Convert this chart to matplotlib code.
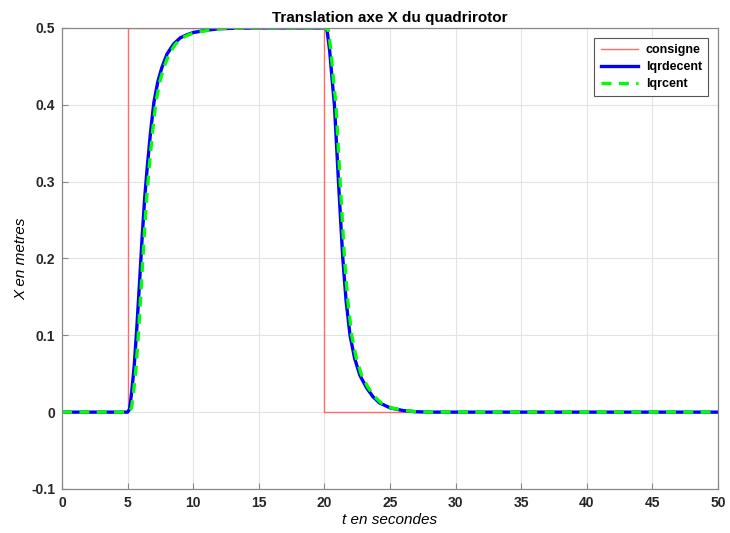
import matplotlib
matplotlib.use("Agg")
import matplotlib.pyplot as plt

# consigne (echelon 0 -> 0.5 -> 0)
t_consigne = [0, 5, 5, 20, 20, 50]
x_consigne = [0, 0, 0.5, 0.5, 0, 0]

# lqrdecent
t_decent = [0, 5.0, 5.15, 5.3, 5.5, 5.7, 5.9, 6.1, 6.3, 6.5, 6.75, 7.0, 7.3, 7.6,
            8.0, 8.5, 9.0, 9.5, 10, 11, 12, 13, 15,
            20.0, 20.2, 20.4, 20.6, 20.76, 20.9, 21.07, 21.25, 21.4, 21.65, 21.95,
            22.3, 22.7, 23.2, 23.7, 24.2, 25, 26, 27, 28, 50]
x_decent = [0, 0, 0.004, 0.025, 0.06, 0.11, 0.167, 0.226, 0.279, 0.32, 0.365, 0.403, 0.43, 0.448,
            0.466, 0.479, 0.487, 0.491, 0.494, 0.497, 0.499, 0.4995, 0.5,
            0.5, 0.497, 0.47, 0.43, 0.4, 0.355, 0.3, 0.245, 0.2, 0.145, 0.1,
            0.07, 0.048, 0.032, 0.02, 0.012, 0.0056, 0.002, 0.0005, 0, 0]

# lqrcent (tres proche, un peu en retard)
t_cent = [0, 5.0, 5.15, 5.3, 5.45, 5.65, 5.85, 6.05, 6.25, 6.45, 6.65, 6.9, 7.15, 7.45, 7.75,
          8.15, 8.65, 9.15, 9.65, 10.15, 11.15, 12.15, 13, 15,
          20.0, 20.3, 20.5, 20.7, 20.88, 21.02, 21.2, 21.38, 21.53, 21.78, 22.08,
          22.43, 22.83, 23.33, 23.83, 24.33, 25.1, 26.1, 27.1, 28, 50]
x_cent = [0, 0, 0.001, 0.006, 0.025, 0.06, 0.11, 0.167, 0.226, 0.279, 0.32, 0.365, 0.403, 0.43, 0.448,
          0.466, 0.479, 0.487, 0.491, 0.494, 0.497, 0.499, 0.4995, 0.5,
          0.5, 0.497, 0.47, 0.43, 0.4, 0.355, 0.3, 0.245, 0.2, 0.145, 0.1,
          0.07, 0.048, 0.032, 0.02, 0.012, 0.0056, 0.002, 0.0005, 0, 0]

x_ticks = [0, 5, 10, 15, 20, 25, 30, 35, 40, 45, 50]
y_ticks = [-0.1, 0, 0.1, 0.2, 0.3, 0.4, 0.5]
y_labels = ["-0.1", "0", "0.1", "0.2", "0.3", "0.4", "0.5"]

plt.rcParams['font.family'] = ['Liberation Sans', 'DejaVu Sans']

fig = plt.figure(figsize=(7.3, 5.33), dpi=100)
ax = fig.add_axes([0.085, 0.0826, 0.8986, 0.865])

ax.plot(t_consigne, x_consigne, color='#ff6a6a', lw=1.0, label='consigne')
ax.plot(t_decent, x_decent, color='#0000ff', lw=2.4, label='lqrdecent')
ax.plot(t_cent, x_cent, color='#00ff00', lw=2.4, ls=(0, (3, 2.2)), label='lqrcent')

ax.set_xlim(0, 50)
ax.set_ylim(-0.1, 0.5)
ax.set_xticks(x_ticks)
ax.set_yticks(y_ticks)
ax.set_yticklabels(y_labels)
ax.tick_params(direction='in', length=4, labelsize=10, labelcolor='#262626',
               color='#888888', pad=5)
for lab in ax.get_xticklabels() + ax.get_yticklabels():
    lab.set_fontweight('bold')
ax.grid(True, color='#e3e3e3', lw=0.8)
ax.set_axisbelow(True)
for s in ax.spines.values():
    s.set_color('#888888')
    s.set_linewidth(0.9)

ax.set_title('Translation axe X du quadrirotor', fontsize=11, fontweight='bold', pad=4)
ax.set_xlabel('t en secondes', fontsize=11, style='italic', labelpad=2)
ax.set_ylabel('X en metres', fontsize=11, style='italic', labelpad=2)

leg = ax.legend(loc='upper right', fancybox=False, edgecolor='#555555', framealpha=1,
                prop={'weight': 'bold', 'size': 9}, borderaxespad=0.8,
                handlelength=3.0, labelspacing=0.4, borderpad=0.5, handletextpad=0.6)
leg.get_frame().set_linewidth(0.8)

fig.savefig('out.png', dpi=100)
